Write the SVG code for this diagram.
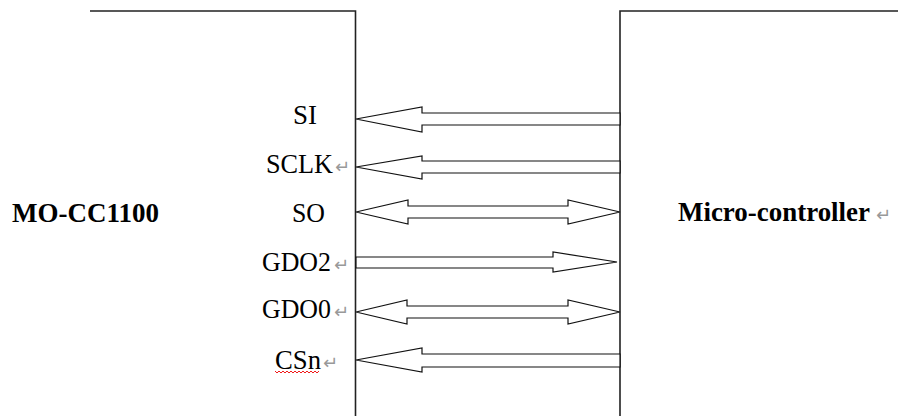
<svg xmlns="http://www.w3.org/2000/svg" width="898" height="416" viewBox="0 0 898 416">
<style>
.box{fill:none;stroke:#222;stroke-width:1.6}
.arr{fill:#fff;stroke:#111;stroke-width:1.2;stroke-linejoin:miter}
.pin{font-family:"Liberation Serif","Times New Roman",serif;font-size:27px;fill:#000}
.title{font-family:"Liberation Serif","Times New Roman",serif;font-size:28px;font-weight:bold;fill:#000}
.ret{font-family:"DejaVu Sans",sans-serif;font-size:18px;fill:#999}
</style>
<rect width="898" height="416" fill="#fff"/>
<g id="mo-cc1100">
<path class="box" d="M90,11 H355.5 V416"/>
<text class="title" x="12" y="222" textLength="147" lengthAdjust="spacingAndGlyphs">MO-CC1100</text>
</g>
<g id="micro-controller">
<path class="box" d="M898,11 H620 V416"/>
<text class="title" x="678" y="221" textLength="192" lengthAdjust="spacingAndGlyphs">Micro-controller</text>
<text class="ret" x="876" y="221">↵</text>
</g>
<g id="connectors">
<g id="si">
<polygon class="arr" points="356,119 422,107 422,113 620,113 620,125 422,125 422,132"/>
<text class="pin" x="293" y="124" textLength="24" lengthAdjust="spacingAndGlyphs">SI</text>
</g>
<g id="sclk">
<polygon class="arr" points="356,167 422,156 422,161 620,161 620,173 422,173 422,179"/>
<text class="pin" x="266" y="173" textLength="67" lengthAdjust="spacingAndGlyphs">SCLK</text>
<text class="ret" x="335" y="173">↵</text>
</g>
<g id="so">
<polygon class="arr" points="356,212 408,200 408,206 568,206 568,200 620,212 568,224 568,218 408,218 408,224"/>
<text class="pin" x="292" y="222" textLength="33" lengthAdjust="spacingAndGlyphs">SO</text>
</g>
<g id="gdo2">
<polygon class="arr" points="356,257 553,257 553,252 617,262 553,272 553,268 356,268"/>
<text class="pin" x="262" y="271" textLength="69" lengthAdjust="spacingAndGlyphs">GDO2</text>
<text class="ret" x="334" y="271">↵</text>
</g>
<g id="gdo0">
<polygon class="arr" points="356,312 407,300 407,306 568,306 568,300 620,312 568,324 568,318 407,318 407,324"/>
<text class="pin" x="262" y="318" textLength="69" lengthAdjust="spacingAndGlyphs">GDO0</text>
<text class="ret" x="334" y="318">↵</text>
</g>
<g id="csn">
<polygon class="arr" points="356,360 422,348 422,354 620,354 620,367 422,367 422,372"/>
<text class="pin" x="275" y="369" textLength="46" lengthAdjust="spacingAndGlyphs">CSn</text>
<text class="ret" x="323" y="369">↵</text>
<path d="M275,371 l2,2 l2,-2 l2,2 l2,-2 l2,2 l2,-2 l2,2 l2,-2 l2,2 l2,-2 l2,2 l2,-2 l2,2 l2,-2 l2,2 l2,-2 l2,2 l2,-2 l2,2 l2,-2 l2,2 l2,-2" fill="none" stroke="#e00" stroke-width="0.9"/>
</g>
</g>
</svg>
